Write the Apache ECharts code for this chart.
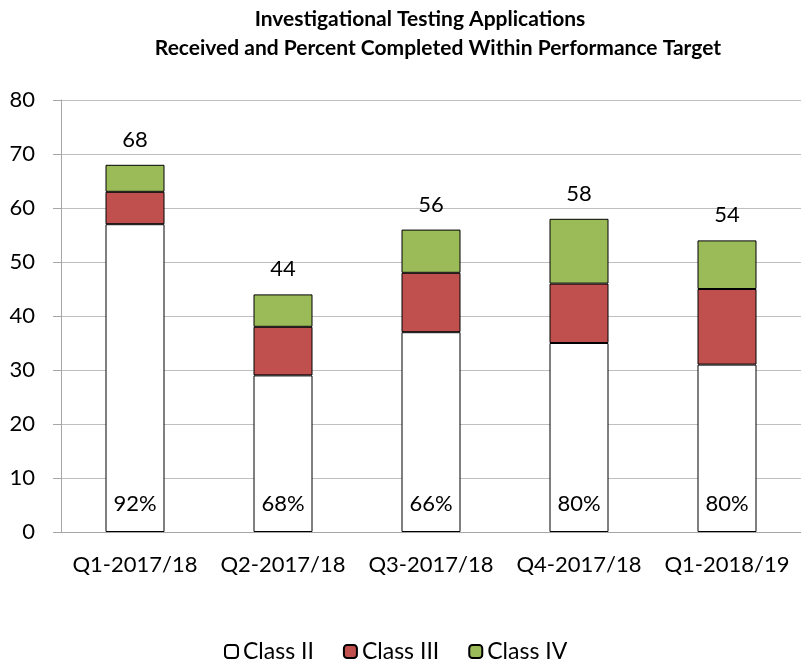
<!DOCTYPE html>
<html><head><meta charset="utf-8">
<script src="https://cdn.jsdelivr.net/npm/echarts@6/dist/echarts.min.js"></script>
<style>html,body{margin:0;padding:0;background:#fff}#c{width:801px;height:666px}</style>
</head><body><div id="c"></div>
<script>
var categories = ['Q1-2017/18','Q2-2017/18','Q3-2017/18','Q4-2017/18','Q1-2018/19'];
var classII = [57, 29, 37, 35, 31];
var classIII = [6, 9, 11, 11, 14];
var classIV = [5, 6, 8, 12, 9];
var totals = [68, 44, 56, 58, 54];
var percents = ['92%','68%','66%','80%','80%'];
var yTicks = [0,10,20,30,40,50,60,70,80];
var titleLines = ['Investigational Testing Applications', 'Received and Percent Completed Within Performance Target'];

var FONT = 'Lato';
var chart = echarts.init(document.getElementById('c'));
var titleStyle = {fontFamily: FONT, fontWeight: 'bold', fontSize: 21, color: '#000'};
chart.setOption({
  animation: false,
  backgroundColor: '#fff',
  title: [
    {text: titleLines[0], left: 415, top: 4, textAlign: 'center', textStyle: titleStyle},
    {text: titleLines[1], left: 433, top: 33, textAlign: 'center', textStyle: titleStyle}
  ],
  legend: {
    bottom: -2, left: 219, itemWidth: 13, itemHeight: 13, itemGap: 29,
    textStyle: {fontFamily: FONT, fontSize: 23, color: '#000'},
    data: ['Class II','Class III','Class IV']
  },
  grid: {left: 61, top: 100, width: 750, height: 432},
  xAxis: {
    type: 'category', data: categories,
    axisLine: {show: true, lineStyle: {color: '#a6a6a6'}},
    axisTick: {show: false},
    axisLabel: {interval: 0, fontFamily: FONT, fontSize: 22, color: '#000', margin: 22}
  },
  yAxis: {
    type: 'value', min: 0, max: 80, interval: 10,
    axisLine: {show: true, lineStyle: {color: '#a6a6a6'}},
    axisTick: {show: true, length: 8, inside: false, lineStyle: {color: '#a6a6a6'}},
    splitLine: {lineStyle: {color: '#bfbfbf'}},
    axisLabel: {fontFamily: FONT, fontSize: 22, color: '#000', margin: 26,
      formatter: function(v){ return yTicks.indexOf(v) >= 0 ? String(v) : ''; }}
  },
  series: [
    {name: 'Class II', type: 'bar', stack: 's', data: classII, barWidth: 59,
     itemStyle: {color: '#ffffff', borderColor: '#000', borderWidth: 1},
     label: {show: true, position: 'insideBottom', distance: 17, fontFamily: FONT, fontSize: 22, color: '#000',
       formatter: function(p){ return percents[p.dataIndex]; }}},
    {name: 'Class III', type: 'bar', stack: 's', data: classIII,
     itemStyle: {color: '#c0504d', borderColor: '#000', borderWidth: 1}},
    {name: 'Class IV', type: 'bar', stack: 's', data: classIV,
     itemStyle: {color: '#9bbb59', borderColor: '#000', borderWidth: 1},
     label: {show: true, position: 'top', distance: 14, fontFamily: FONT, fontSize: 22, color: '#000',
       formatter: function(p){ return String(totals[p.dataIndex]); }}}
  ]
});
</script></body></html>
